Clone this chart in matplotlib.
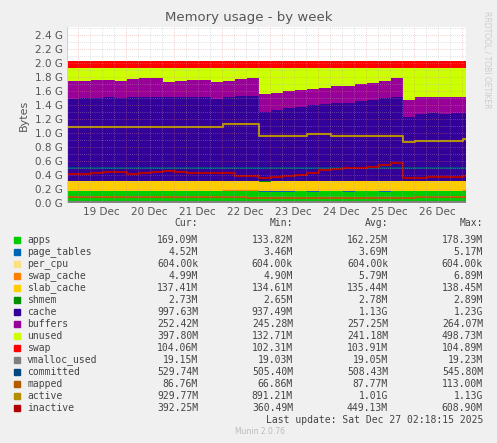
import matplotlib
matplotlib.use("Agg")
import matplotlib.pyplot as plt
import numpy as np

# time axis: days since 19 Dec 00:00, 6-hour samples
t = -0.22 + 0.25 * np.arange(34)
t_end = 8.09

apps = [0.165,0.166,0.168,0.167,0.166,0.168,0.167,0.168,0.167,0.166,0.168,0.167,0.168,0.169,0.172,0.170,
        0.160,0.162,0.163,0.165,0.164,0.166,0.165,0.164,0.166,0.165,0.164,0.166,0.165,0.166,0.167,0.166,0.168,0.169]
page_tables = [0.0045]*34
per_cpu = [0.0006]*34
swap_cache = [0.005]*34
slab_cache = [0.137,0.136,0.138,0.137,0.136,0.137,0.138,0.137,0.136,0.137,0.138,0.137,0.136,0.135,0.135,0.136,
              0.135,0.136,0.137,0.136,0.135,0.136,0.137,0.136,0.135,0.136,0.137,0.136,0.135,0.136,0.137,0.137,0.137,0.137]
shmem = [0.0027]*34
cache = [1.17,1.18,1.18,1.19,1.18,1.19,1.19,1.20,1.20,1.19,1.19,1.19,1.17,1.19,1.20,1.21,
         0.99,1.02,1.04,1.06,1.08,1.09,1.11,1.12,1.14,1.16,1.18,1.20,
         0.91,0.95,0.96,0.96,0.96,0.97]
buffers = [0.25,0.25,0.25,0.25,0.25,0.26,0.27,0.27,0.21,0.23,0.24,0.25,0.24,0.24,0.25,0.26,
           0.25,0.24,0.24,0.24,0.24,0.24,0.24,0.24,0.24,0.24,0.24,0.27,
           0.24,0.24,0.23,0.23,0.23,0.23]
total_ram = 1.92
swap = [0.104]*34
vmalloc_used = [0.019]*34
committed = [0.50]*34
mapped = [0.09]*15 + [0.07]*14 + [0.08]*5
active = [1.08]*13 + [1.12]*3 + [0.96]*4 + [0.98]*2 + [0.95,0.95,0.95,0.96,0.96,0.96] + [0.87] + [0.89]*4 + [0.91]
inactive = [0.41,0.42,0.43,0.44,0.44,0.42,0.43,0.44,0.45,0.44,0.43,0.43,0.43,0.43,0.39,0.39,
            0.36,0.37,0.38,0.40,0.43,0.47,0.48,0.50,0.50,0.51,0.54,0.57,
            0.36,0.36,0.37,0.37,0.37,0.38]

names = ["apps","page_tables","per_cpu","swap_cache","slab_cache","shmem","cache","buffers","unused","swap",
         "vmalloc_used","committed","mapped","active","inactive"]
colors = ["#00CC00","#0066B3","#FFE080","#FF8000","#FFCC00","#008F00","#330099","#990099","#CCFF00","#FF0000",
          "#808080","#00487D","#B35A00","#B38F00","#B30000"]
cur = ["169.09M","4.52M","604.00k","4.99M","137.41M","2.73M","997.63M","252.42M","397.80M","104.06M","19.15M","529.74M","86.76M","929.77M","392.25M"]
mins = ["133.82M","3.46M","604.00k","4.90M","134.61M","2.65M","937.49M","245.28M","132.71M","102.31M","19.03M","505.40M","66.86M","891.21M","360.49M"]
avgs = ["162.25M","3.69M","604.00k","5.79M","135.44M","2.78M","1.13G","257.25M","241.18M","103.91M","19.05M","508.43M","87.77M","1.01G","449.13M"]
maxs = ["178.39M","5.17M","604.00k","6.89M","138.45M","2.89M","1.23G","264.07M","498.73M","104.89M","19.23M","545.80M","113.00M","1.13G","608.90M"]
day_labels = ["19 Dec","20 Dec","21 Dec","22 Dec","23 Dec","24 Dec","25 Dec","26 Dec"]

W, H = 497, 443
fig = plt.figure(figsize=(W/100, H/100), dpi=100, facecolor="#F0F0F0")
ax = fig.add_axes([67/W, (H-203)/H, 399/W, 176/H])
ax.set_facecolor("white")

te = np.append(t, t_end)
def ext(a): a = np.asarray(a, float); return np.append(a, a[-1])

stack = [apps, page_tables, per_cpu, swap_cache, slab_cache, shmem, cache, buffers]
unused = total_ram - np.sum(np.array(stack), axis=0)
stack = stack + [unused, swap]
base = np.zeros(35)
for vals, c in zip(stack, colors[:10]):
    top = base + ext(vals)
    ax.fill_between(te, base, top, step="post", color=c, lw=0, zorder=1)
    base = top
for vals, c in zip([vmalloc_used, committed, mapped, active, inactive], colors[10:]):
    ax.step(te, ext(vals), where="post", color=c, lw=1.5, zorder=2)

ax.set_xlim(-0.22, t_end)
ax.set_ylim(0, 2.51)
ax.set_yticks(np.arange(0, 2.41, 0.2))
ax.set_yticklabels([f"{v:.1f} G" for v in np.arange(0, 2.41, 0.2)], fontsize=7.5, color="#555555")
ax.set_xticks(np.arange(8) + 0.5)
ax.set_xticklabels(day_labels, fontsize=7.5, color="#555555")
ax.tick_params(length=0, pad=3)
for v in np.arange(0.1, 2.51, 0.1):
    major = round(v*10) % 2 == 0
    ax.axhline(v, color="#E08080" if major else "#B0B0B0", lw=0.5, ls=(0, (1, 2)), zorder=3, alpha=0.7)
for d in np.arange(0.0, 8.1, 0.25):
    major = abs(d - round(d)) < 1e-6
    ax.axvline(d, color="#E08080" if major else "#B0B0B0", lw=0.5, ls=(0, (1, 2)), zorder=3, alpha=0.7)
for s in ax.spines.values():
    s.set_visible(False)
ax.axhline(0, color="#C8D0F0", lw=0.8, zorder=4)
ax.axvline(-0.22, color="#C8D0F0", lw=0.8, zorder=4)
ax.set_ylabel("Bytes", fontsize=8, color="#555555")

fig.text(0.5, 1 - 18/H, "Memory usage - by week", ha="center", va="center", fontsize=9.5, color="#555555")
fig.text(487/W, 1 - 60/H, "RRDTOOL / TOBI OETIKER", rotation=270, ha="center", va="center", fontsize=5.5, color="#CCCCCC")

mono = "DejaVu Sans Mono"
fs = 7
y0 = 223
for lbl, xr in zip(["Cur:", "Min:", "Avg:", "Max:"], [198, 293, 388, 483]):
    fig.text(xr/W, 1 - y0/H, lbl, ha="right", va="center", family=mono, fontsize=fs, color="#444444")
for i, n in enumerate(names):
    yy = 240 + i * 12
    fig.patches.append(plt.Rectangle((14/W, 1 - (yy+3)/H), 6/W, 6/H, transform=fig.transFigure, color=colors[i]))
    fig.text(27/W, 1 - yy/H, n, ha="left", va="center", family=mono, fontsize=fs, color="#444444")
    for vals, xr in zip([cur, mins, avgs, maxs], [198, 293, 388, 483]):
        fig.text(xr/W, 1 - yy/H, vals[i], ha="right", va="center", family=mono, fontsize=fs, color="#444444")
fig.text(483/W, 1 - 420/H, "Last update: Sat Dec 27 02:18:15 2025", ha="right", va="center", family=mono, fontsize=fs, color="#444444")
fig.text(260/W, 1 - 432/H, "Munin 2.0.76", ha="center", va="center", fontsize=5.5, color="#BBBBBB")

fig.savefig("out.png", dpi=100, facecolor=fig.get_facecolor())
